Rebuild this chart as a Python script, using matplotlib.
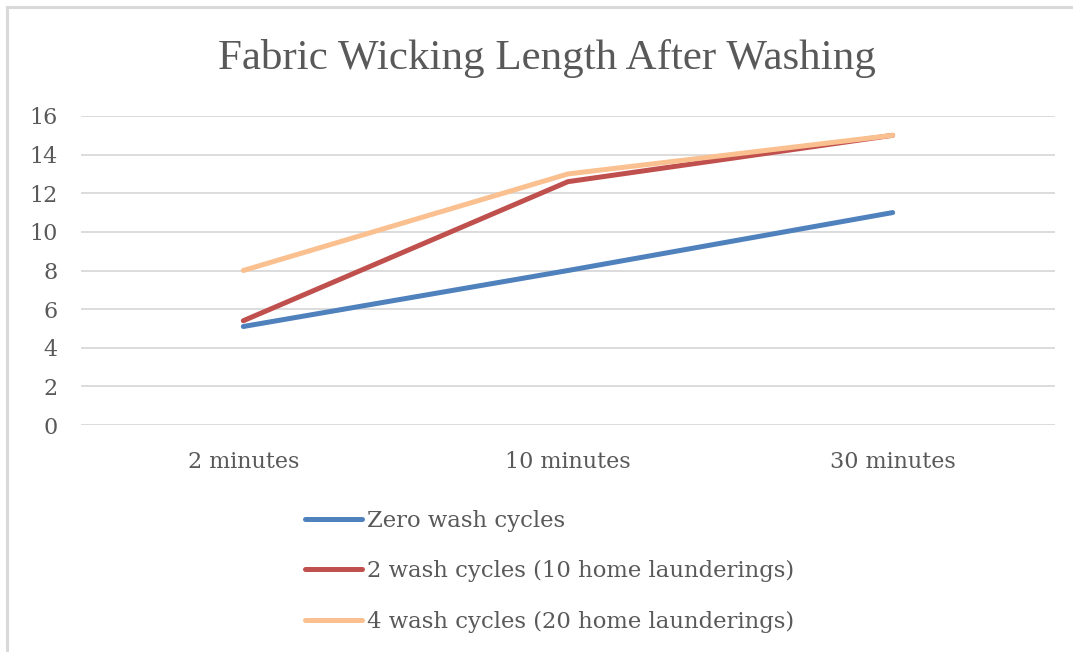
import matplotlib.pyplot as plt
from matplotlib.lines import Line2D

# data
categories = ["2 minutes", "10 minutes", "30 minutes"]
zero_wash = [5.1, 8.0, 11.0]
two_wash = [5.4, 12.6, 15.0]
four_wash = [8.0, 13.0, 15.0]
labels = ["Zero wash cycles",
          "2 wash cycles (10 home launderings)",
          "4 wash cycles (20 home launderings)"]
colors = ["#4F81BD", "#C0504D", "#FAC090"]
yticks = [0, 2, 4, 6, 8, 10, 12, 14, 16]

text_col = "#595959"
tick_font = "DejaVu Serif"

fig = plt.figure(figsize=(10.73, 6.52), dpi=100)
ax = fig.add_axes([81/1073, 1 - 425/652, (1055 - 81)/1073, (425 - 116)/652])

x = list(range(len(categories)))
for vals, lab, col in zip([zero_wash, two_wash, four_wash], labels, colors):
    ax.plot(x, vals, color=col, lw=3.6, label=lab, solid_capstyle="round",
            clip_on=False, zorder=3)

ax.set_xlim(-0.5, len(categories) - 0.5)
ax.set_ylim(0, 16)
ax.set_yticks(yticks)
ax.set_xticks(x)
ax.set_xticklabels(categories)
ax.grid(axis="y", color="#D9D9D9", lw=1.3)
ax.set_axisbelow(True)
for s in ax.spines.values():
    s.set_visible(False)
ax.tick_params(axis="both", length=0, labelsize=16, labelcolor=text_col)
ax.tick_params(axis="y", pad=17)
ax.tick_params(axis="x", pad=19)
for t in ax.get_xticklabels() + ax.get_yticklabels():
    t.set_family(tick_font)

fig.text(547/1073, 1 - 58/652, "Fabric Wicking Length After Washing",
         ha="center", va="center", fontsize=31, color=text_col,
         family="Liberation Serif")

leg = fig.legend(loc="upper left", bbox_to_anchor=(305/1073, 1 - 510/652),
                 frameon=False, borderpad=0, borderaxespad=0,
                 handlelength=2.5, handletextpad=0.22, labelspacing=1.24,
                 prop={"family": tick_font, "size": 16.4})
for t in leg.get_texts():
    t.set_color(text_col)

# chart area border (left and top edges visible)
fig.add_artist(Line2D([7/1073, 7/1073], [0, 1 - 7/652], transform=fig.transFigure,
                      color="#D9D9D9", lw=2.2))
fig.add_artist(Line2D([7/1073, 1], [1 - 7/652, 1 - 7/652], transform=fig.transFigure,
                      color="#D9D9D9", lw=2.2))

fig.savefig("out.png", dpi=100, facecolor="white")
